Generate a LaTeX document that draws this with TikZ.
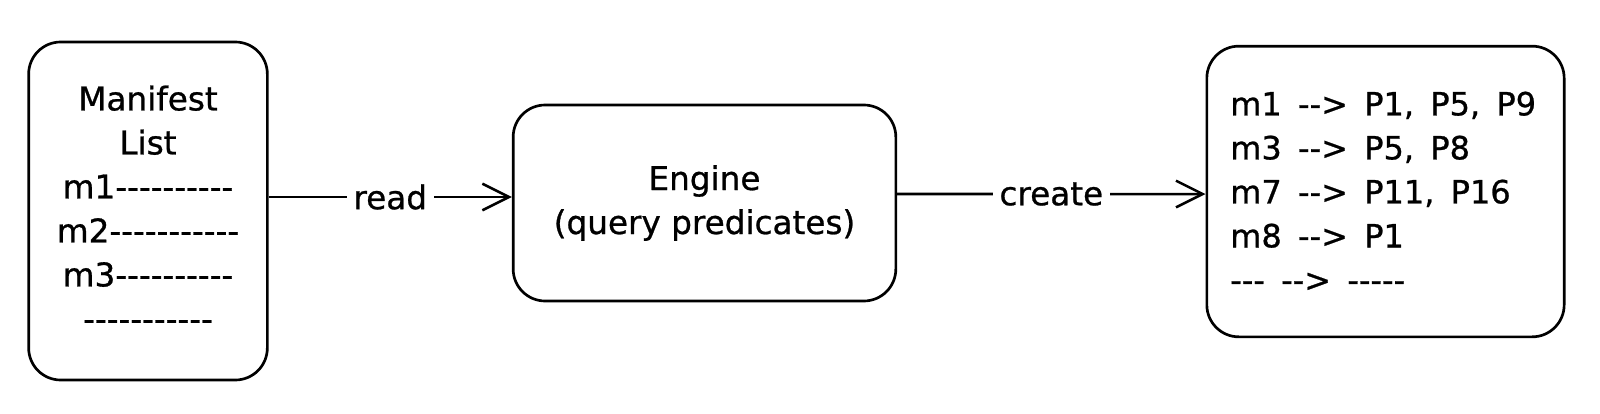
\documentclass[tikz,border=0pt]{standalone}
\usepackage{fontspec}
\newfontfamily\hand[Ligatures=TeXOff, FakeBold=0.8]{DejaVu Sans}
\newcommand\widesp{\spaceskip=1.6\fontdimen2\font\relax}
\usetikzlibrary{arrows.meta}
\tikzset{
  box/.style={draw=black, line width=2pt, rounded corners=24pt, inner sep=0pt},
  txt/.style={font=\hand\fontsize{24.5}{33}\selectfont, align=center, inner sep=0pt},
  lbl/.style={font=\hand\fontsize{24.5}{33}\selectfont, fill=white, inner sep=5pt},
  arr/.style={line width=1.9pt, -{Straight Barb[length=20pt,width=20pt,line width=1.9pt]}}
}
\begin{document}
\begin{tikzpicture}[x=0.75pt,y=-0.75pt]
\useasboundingbox (0,0) rectangle (1600,414);
\node[box, minimum width=179pt, minimum height=253.5pt] (L) at (148,211) {};
\node[txt] (Ltxt) at (148,208) {Manifest\\List\\m1----------\\m2-----------\\m3----------\\-----------};
\node[box, minimum width=287pt, minimum height=147pt] (E) at (704.5,203) {};
\node[txt] (Etxt) at (704.5,203) {Engine\\(query predicates)};
\node[box, minimum width=268pt, minimum height=218pt] (R) at (1385.5,191.5) {};
\node[txt, font=\hand\fontsize{24}{33}\selectfont\widesp, align=left, anchor=west] (Rtxt) at (1230,191.5) {m1 --> P1, P5, P9\\m3 --> P5, P8\\m7 --> P11, P16\\m8 --> P1\\--- --> -----};
\draw[arr] ([yshift=10.5pt]L.east) -- node[lbl] (read) {read} ([yshift=4.5pt]E.west);
\draw[arr] ([yshift=6.75pt]E.east) -- node[lbl] (create) {create} ([yshift=-1.9pt]R.west);
\end{tikzpicture}
\end{document}
